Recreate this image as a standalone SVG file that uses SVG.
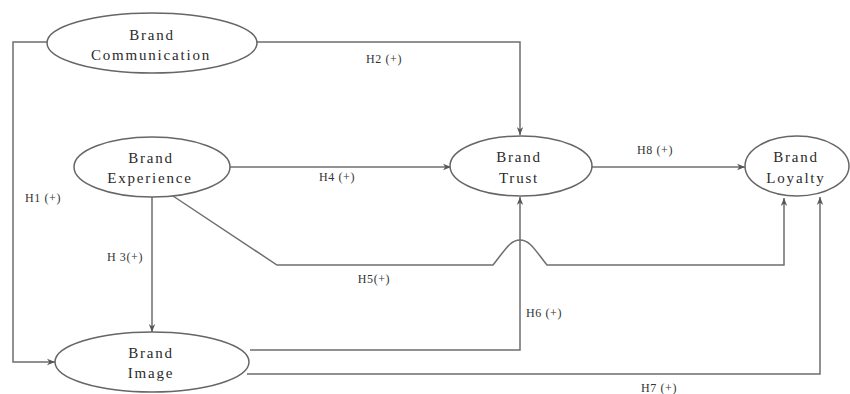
<svg xmlns="http://www.w3.org/2000/svg" width="850" height="394" viewBox="0 0 850 394">
  <style>
    .node ellipse { fill: #fff; stroke: #666; stroke-width: 1.5; }
    .node text { font-family: "Liberation Serif", serif; font-size: 15px; fill: #2a2a2a; text-anchor: middle; letter-spacing: 1.8px; }
    .edge { fill: none; stroke: #6e6e6e; stroke-width: 1.5; }
    .lbl { font-family: "Liberation Serif", serif; font-size: 12px; fill: #333; text-anchor: middle; letter-spacing: 0.6px; }
  </style>
  <defs>
    <marker id="arrow" viewBox="0 0 10 10" refX="10" refY="5" markerWidth="8" markerHeight="8" orient="auto" markerUnits="userSpaceOnUse">
      <path d="M0,1 L10,5 L0,9 L3,5 Z" fill="#555"/>
    </marker>
  </defs>
  <rect width="850" height="394" fill="#fff"/>

  <!-- connectors -->
  <g id="connectors">
    <!-- H1: Communication -> Image -->
    <path class="edge" d="M47,42 H13 V362 H55" marker-end="url(#arrow)"/>
    <!-- H2: Communication -> Trust -->
    <path class="edge" d="M257,42 H520 V135" marker-end="url(#arrow)"/>
    <!-- H3: Experience -> Image -->
    <path class="edge" d="M152,197 V332" marker-end="url(#arrow)"/>
    <!-- H4: Experience -> Trust -->
    <path class="edge" d="M230,167 H451" marker-end="url(#arrow)"/>
    <!-- H5: Experience -> Loyalty, hopping over H6 -->
    <path class="edge" d="M173,196 L277,265 H493 C505,250 510,240 520,240 C530,240 535,250 547,265 H784 V198" marker-end="url(#arrow)"/>
    <!-- H6: Image -> Trust -->
    <path class="edge" d="M250,350 H520 V197" marker-end="url(#arrow)"/>
    <!-- H7: Image -> Loyalty -->
    <path class="edge" d="M247,374 H820 V197" marker-end="url(#arrow)"/>
    <!-- H8: Trust -> Loyalty -->
    <path class="edge" d="M592,167 H745" marker-end="url(#arrow)"/>

    <text class="lbl" x="384" y="63">H2 (+)</text>
    <text class="lbl" x="43" y="202">H1 (+)</text>
    <text class="lbl" x="337" y="181">H4 (+)</text>
    <text class="lbl" x="655" y="154">H8 (+)</text>
    <text class="lbl" x="125" y="261">H 3(+)</text>
    <text class="lbl" x="374" y="283">H5(+)</text>
    <text class="lbl" x="544" y="317">H6 (+)</text>
    <text class="lbl" x="659" y="392">H7 (+)</text>
  </g>

  <g id="brand-communication" class="node">
    <ellipse cx="152" cy="43" rx="105" ry="30"/>
    <text x="152" y="40">Brand</text>
    <text x="151" y="60">Communication</text>
  </g>

  <g id="brand-experience" class="node">
    <ellipse cx="152" cy="167" rx="78" ry="30"/>
    <text x="151" y="163">Brand</text>
    <text x="150" y="183">Experience</text>
  </g>

  <g id="brand-trust" class="node">
    <ellipse cx="521" cy="166" rx="71" ry="30"/>
    <text x="519" y="162">Brand</text>
    <text x="519" y="183">Trust</text>
  </g>

  <g id="brand-loyalty" class="node">
    <ellipse cx="797" cy="166" rx="52" ry="30"/>
    <text x="796" y="162">Brand</text>
    <text x="796" y="183">Loyalty</text>
  </g>

  <g id="brand-image" class="node">
    <ellipse cx="152" cy="362" rx="97" ry="30"/>
    <text x="151" y="358">Brand</text>
    <text x="151" y="378">Image</text>
  </g>
</svg>
